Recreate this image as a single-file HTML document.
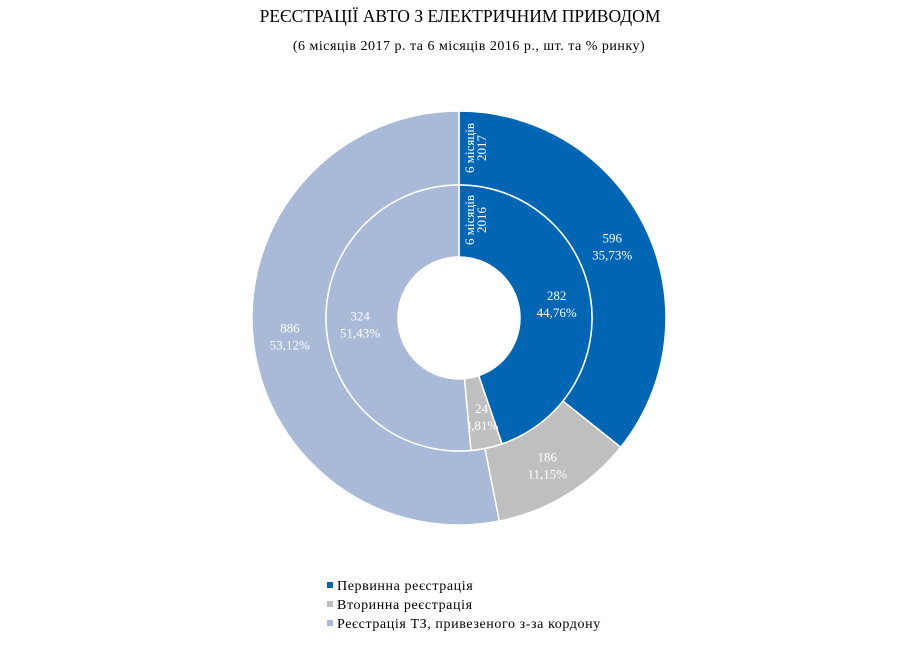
<!DOCTYPE html>
<html><head><meta charset="utf-8"><style>
body{margin:0;background:#fff;width:919px;height:661px;overflow:hidden;font-family:"Liberation Serif",serif}
</style></head><body>
<svg width="919" height="661">
<text x="460" y="22" text-anchor="middle" font-size="17.5" fill="#000">РЕЄСТРАЦІЇ АВТО З ЕЛЕКТРИЧНИМ ПРИВОДОМ</text>
<text x="469" y="50" text-anchor="middle" font-size="14" letter-spacing="0.5" fill="#000">(6 місяців 2017 р. та 6 місяців 2016 р., шт. та % ринку)</text>
<g id="pie"></g>
<g font-size="14" letter-spacing="0.6">
<rect x="327" y="582" width="6" height="6" fill="#0066b3"/><text x="337" y="590">Первинна реєстрація</text>
<rect x="327" y="601" width="6" height="6" fill="#bfbfbf"/><text x="337" y="609">Вторинна реєстрація</text>
<rect x="327" y="620" width="6" height="6" fill="#a9b9d8"/><text x="337" y="628">Реєстрація ТЗ, привезеного з-за кордону</text>
</g>
</svg>
<script>
const categories=["Первинна реєстрація","Вторинна реєстрація","Реєстрація ТЗ, привезеного з-за кордону"];
const values2017=[596,186,886];
const pct2017=["35,73%","11,15%","53,12%"];
const values2016=[282,24,324];
const pct2016=["44,76%","3,81%","51,43%"];
const colors=["#0066b3","#bfbfbf","#a9b9d8"];
const cx=459,cy=318,NS="http://www.w3.org/2000/svg";
const g=document.getElementById('pie');
function pt(a,r){return [cx+r*Math.sin(a),cy-r*Math.cos(a)];}
function ring(vals,pcts,r0,r1,lr,tag){
  const tot=vals.reduce((a,b)=>a+b,0);let a=0;
  vals.forEach((v,i)=>{
    const b=a+v/tot*2*Math.PI;
    const [x1,y1]=pt(a,r1),[x2,y2]=pt(b,r1),[x3,y3]=pt(b,r0),[x4,y4]=pt(a,r0);
    const lg=(b-a)>Math.PI?1:0;
    const p=document.createElementNS(NS,'path');
    p.setAttribute('d',`M${x1},${y1}A${r1},${r1} 0 ${lg} 1 ${x2},${y2}L${x3},${y3}A${r0},${r0} 0 ${lg} 0 ${x4},${y4}Z`);
    p.setAttribute('fill',colors[i]);p.setAttribute('stroke','#fff');p.setAttribute('stroke-width','1.5');
    
    
    g.appendChild(p);
    const m=(a+b)/2;let [lx,ly]=pt(m,lr);
    if((b-a)<0.3) lx+=2;
    [String(v),pcts[i]].forEach((s,k)=>{
      const t=document.createElementNS(NS,'text');
      t.setAttribute('x',lx);t.setAttribute('y',ly-2+k*17);t.setAttribute('text-anchor','middle');
      t.setAttribute('font-size','13');t.setAttribute('fill','#fff');t.textContent=s;
      
      
      g.appendChild(t);
    });
    a=b;
  });
}
ring(values2017,pct2017,133,207,170,'2017');
ring(values2016,pct2016,61,133,99,'2016');
[["6 місяців","2017",148],["6 місяців","2016",220]].forEach(([a,b,y])=>{
  const t=document.createElementNS(NS,'text');
  t.setAttribute('transform',`translate(474,${y}) rotate(-90)`);
  t.setAttribute('text-anchor','middle');t.setAttribute('font-size','13');t.setAttribute('fill','#fff');
  t.innerHTML=`<tspan x="0" dy="0">${a}</tspan><tspan x="0" dy="12">${b}</tspan>`;
  
  
  g.appendChild(t);
});
</script>
</body></html>
